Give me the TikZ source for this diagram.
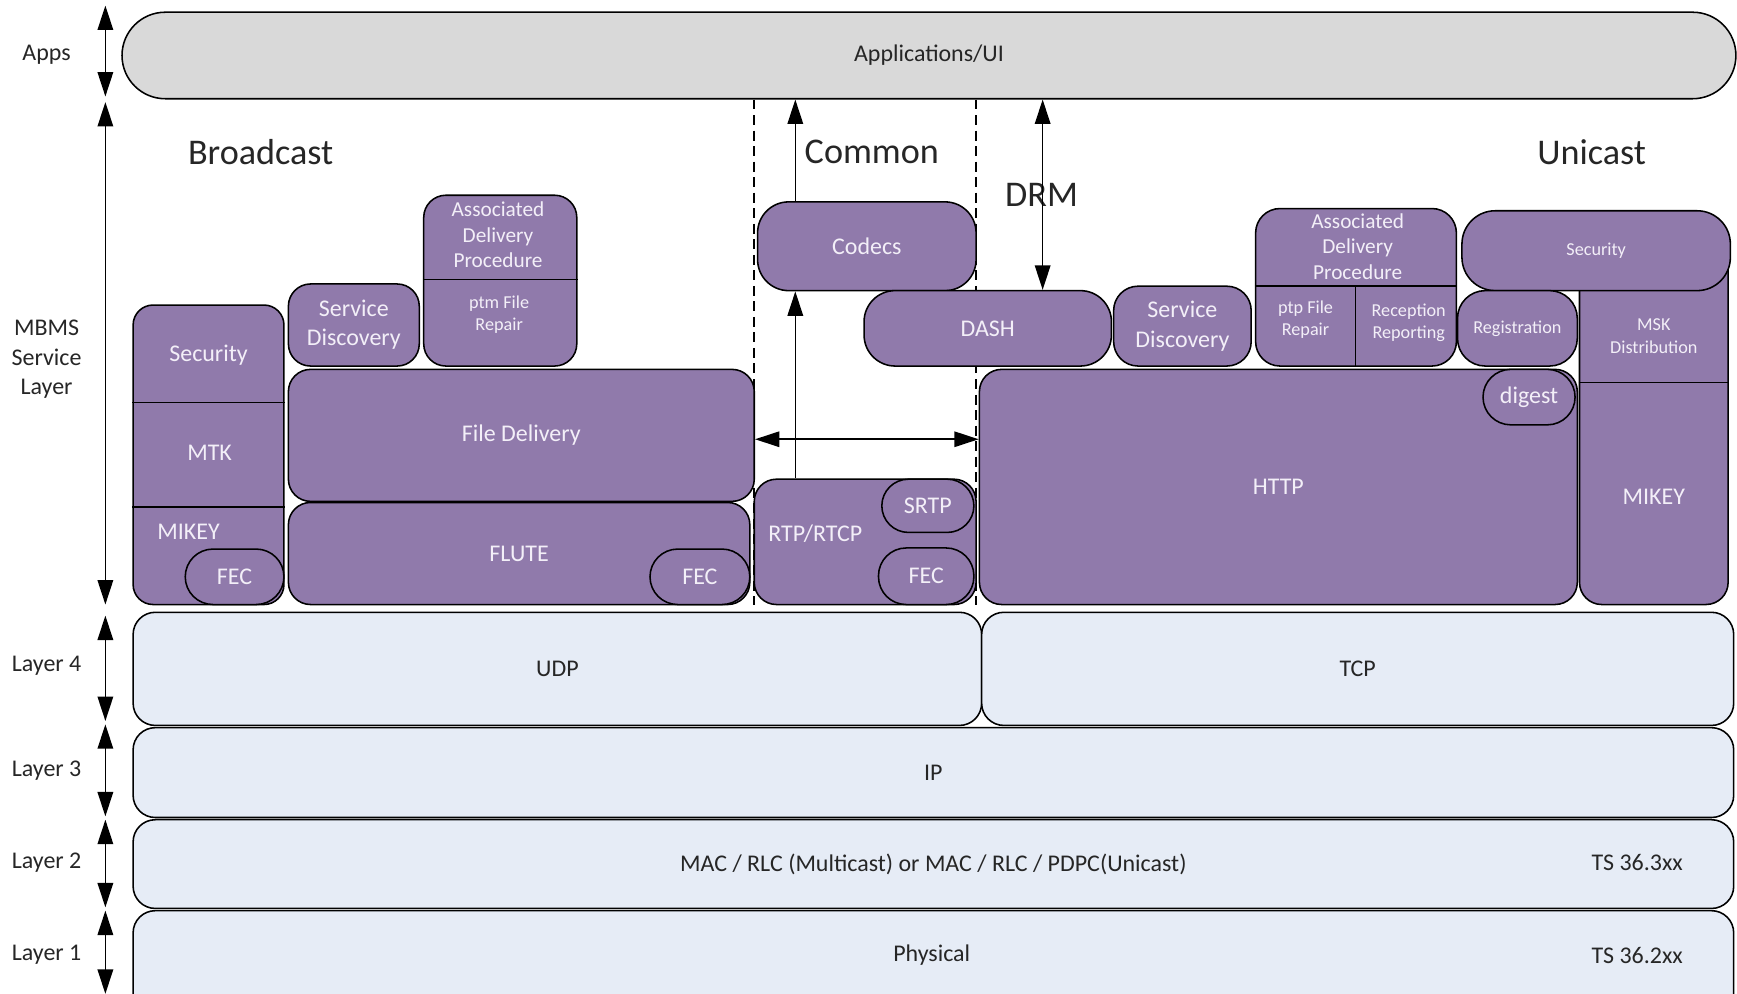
\documentclass[tikz,border=0pt]{standalone}
\usepackage{fontspec}
\setmainfont{Carlito}
\usetikzlibrary{arrows.meta}
\definecolor{mbpurple}{RGB}{144,122,171}
\definecolor{mbtext}{RGB}{243,239,248}
\definecolor{laybg}{RGB}{230,236,246}
\definecolor{appbg}{RGB}{217,217,217}
\definecolor{ink}{RGB}{38,38,38}
\NewDocumentCommand\sizeS{}{\fontsize{8.2}{10}\selectfont}
\NewDocumentCommand\sizeM{}{\fontsize{9.6}{11.5}\selectfont}
\NewDocumentCommand\sizeN{}{\fontsize{10.8}{13.2}\selectfont}
\NewDocumentCommand\sizeL{}{\fontsize{16.3}{19}\selectfont}

\begin{document}
\begin{tikzpicture}[x=0.5pt,y=-0.5pt,line width=0.7pt,
    spans/.style n args={4}{at={({(#1+#3)/2},{(#2+#4)/2})},
      minimum width={(#3-#1)*0.5pt},minimum height={(#4-#2)*0.5pt}},
    blk/.style={draw=black,fill=mbpurple,text=mbtext,inner sep=0pt,
      rounded corners=10pt,font=\sizeN,align=center},
    lyr/.style={blk,fill=laybg,text=ink},
    lbl/.style={text=mbtext,font=\sizeN,align=center,inner sep=0pt},
    head/.style={font=\sizeL,text=ink,inner sep=0pt},
    arw/.style={-{Triangle[length=11pt,width=7pt]}},
    arw2/.style={{Triangle[length=11pt,width=7pt]}-{Triangle[length=11pt,width=7pt]}}]
  \useasboundingbox (0,0) rectangle (1566,896);

  % top
  \node[blk,fill=appbg,text=ink,rounded corners=19.5pt,spans={110}{11}{1565}{89}] (apps) {Applications/UI};
  \node[head] (hbc) at (235,137) {Broadcast};
  \node[head] (hcom) at (786,137) {Common};
  \node[head] (huc) at (1435,137) {Unicast};
  \node[head] (hdrm) at (939,176) {DRM};

  \coordinate (sepl) at (680,545);
  \coordinate (sepr) at (880,545);
  \draw[dash pattern=on 4.5pt off 2.5pt] (apps.south -| sepl) -- (sepl);
  \draw[dash pattern=on 4.5pt off 2.5pt] (apps.south -| sepr) -- (sepr);

  % broadcast
  \node[blk,rounded corners=9pt,spans={120}{275}{256}{545}] (bsec) {};
  \draw (bsec.west |- 0,363) -- (bsec.east |- 0,363);
  \draw (bsec.west |- 0,457) -- (bsec.east |- 0,457);
  \node[lbl] (tbsec) at (188,320) {Security};
  \node[lbl] (tmtk) at (189,408) {MTK};
  \node[lbl] (tmik) at (170,479) {MIKEY};
  \node[blk,rounded corners=12.5pt,spans={167}{495}{256}{545}] (bfec) {FEC};
  \node[blk,spans={260}{256}{378}{330}] (bsd) {Service\\Discovery};
  \node[blk,spans={382}{176}{520}{330}] (badp) {};
  \draw (badp.west |- 0,252) -- (badp.east |- 0,252);
  \node[lbl,font=\sizeM] (tbadp) at (449,212) {Associated\\Delivery\\Procedure};
  \node[lbl,font=\sizeS] (tptm) at (450,284) {ptm File\\Repair};
  \node[blk,spans={260}{333}{680}{452}] (fdel) {File Delivery};
  \node[blk,spans={260}{453}{676}{545}] (flute) {FLUTE};
  \node[blk,rounded corners=12.5pt,spans={586}{495}{676}{545}] (ffec) {FEC};

  % common
  \node[blk,rounded corners=14pt,spans={683}{182}{880}{262}] (codec) {Codecs};
  \node[blk,spans={680}{432}{880}{545}] (rtp) {};
  \node[lbl] (trtp) at (735,481) {RTP/RTCP};
  \node[blk,rounded corners=12pt,spans={795}{432}{878}{480}] (srtp) {SRTP};
  \node[blk,rounded corners=12.5pt,spans={792}{494}{878}{545}] (cfec) {FEC};

  % unicast
  \node[blk,rounded corners=14pt,spans={779}{262}{1002}{330}] (dash) {DASH};
  \node[blk,rounded corners=11pt,spans={1004}{258}{1128}{330}] (usd) {Service\\Discovery};
  \node[blk,rounded corners=11pt,spans={1132}{188}{1313}{330}] (uadp) {};
  \draw (uadp.west |- 0,258) -- (uadp.east |- 0,258);
  \draw (1222,258) -- (uadp.south -| 1222,0);
  \node[lbl,font=\sizeM] (tuadp) at (1224,222) {Associated\\Delivery\\Procedure};
  \node[lbl,font=\sizeS] (tptp) at (1177,288) {ptp File\\Repair};
  \node[lbl,font=\sizeS] (trep) at (1270,291) {Reception\\Reporting};
  \node[blk,spans={1424}{200}{1558}{545}] (ucol) {};
  \draw (ucol.west |- 0,345) -- (ucol.east |- 0,345);
  \node[lbl,font=\sizeS] (tmsk) at (1491,303) {MSK\\Distribution};
  \node[lbl] (tumik) at (1491,448) {MIKEY};
  \node[blk,font=\sizeS,rounded corners=15pt,spans={1318}{190}{1560}{262}] (usec) {Security};
  \node[blk,font=\sizeS,rounded corners=12.5pt,spans={1314}{262}{1422}{330}] (ureg) {Registration};
  \node[blk,spans={883}{333}{1422}{545}] (http) {HTTP};
  \node[blk,rounded corners=12.5pt,spans={1337}{333}{1420}{383}] (dig) {digest};

  % lower layers
  \node[lyr,spans={120}{552}{885}{654}] (udp) {UDP};
  \node[lyr,spans={885}{552}{1563}{654}] (tcp) {TCP};
  \node[lyr,spans={120}{656}{1563}{737}] (ip) {IP};
  \node[lyr,spans={120}{739}{1563}{819}] (mac) {MAC / RLC (Multicast) or MAC / RLC / PDPC(Unicast)};
  \node[lbl,text=ink] (ts3) at (1476,778) {TS 36.3xx};
  \node[lyr,spans={120}{821}{1563}{935}] (phy) {};
  \node[lbl,text=ink] (tphy) at (840,861) {Physical};
  \node[lbl,text=ink] (ts2) at (1476,861) {TS 36.2xx};

  % arrows
  \coordinate (cx) at (717,0);
  \coordinate (dx) at (940,0);
  \coordinate (hy) at (0,396);
  \draw[arw] (codec.north -| cx) -- (apps.south -| cx);
  \draw[arw] (rtp.north -| cx) -- (codec.south -| cx);
  \draw[arw2] (dash.north -| dx) -- (apps.south -| dx);
  \draw[arw2] (fdel.east |- hy) -- (http.west |- hy);

  % left scale
  \foreach \n/\a/\b/\m/\t in {apps/5/87/49/Apps, mbms/92/545/324/MBMS\\Service\\Layer,
      l4/555/650/600/Layer 4, l3/653/736/695/Layer 3, l2/739/818/778/Layer 2, l1/821/896/861/Layer 1}{
    \coordinate (t\n) at (95,\a);
    \coordinate (b\n) at (95,\b);
    \draw[arw2] (t\n) -- (b\n);
    \node[font=\sizeN,text=ink,align=center,inner sep=0pt] (lab\n) at (42,\m) {\t};
  }
\end{tikzpicture}
\end{document}
